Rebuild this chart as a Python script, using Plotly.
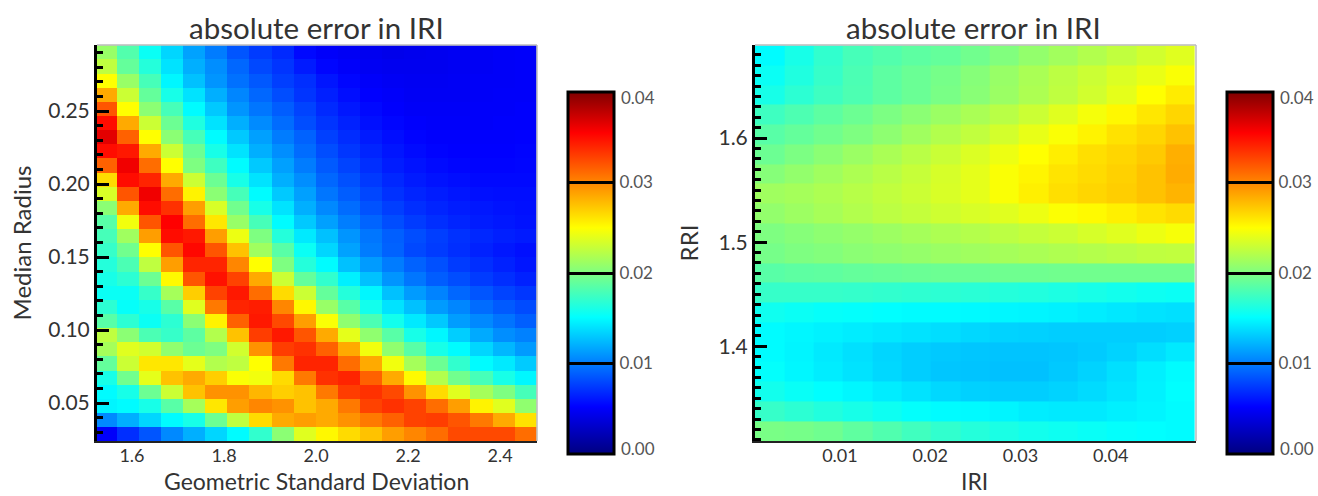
import plotly.graph_objects as go

TITLE = "absolute error in IRI"
LEFT_XLABEL = "Geometric Standard Deviation"
RIGHT_XLABEL = "IRI"

# Left panel
gsd_values = [1.543, 1.591, 1.639, 1.687, 1.735, 1.783, 1.831, 1.879, 1.927, 1.975,
              2.023, 2.071, 2.119, 2.167, 2.215, 2.263, 2.311, 2.359, 2.407, 2.455]
radius_values_top_down = [0.2902, 0.2805, 0.2708, 0.2611, 0.2515, 0.2418, 0.2321, 0.2224, 0.2128, 0.2031,
                          0.1934, 0.1837, 0.1740, 0.1644, 0.1547, 0.1450, 0.1353, 0.1257, 0.1160, 0.1063,
                          0.0966, 0.0869, 0.0772, 0.0676, 0.0579, 0.0482, 0.0385, 0.0288]
error_left_top_down = [
 [.0210,.0183,.0155,.0135,.0115,.0100,.0085,.0075,.0068,.0055,.0050,.0048,.0046,.0044,.0045,.0046,.0047,.0048,.0049,.0050],
 [.0225,.0190,.0165,.0140,.0120,.0107,.0092,.0080,.0072,.0062,.0054,.0050,.0047,.0046,.0046,.0046,.0047,.0048,.0049,.0050],
 [.0250,.0210,.0178,.0148,.0127,.0110,.0096,.0086,.0076,.0070,.0060,.0054,.0050,.0048,.0047,.0047,.0048,.0049,.0049,.0050],
 [.0285,.0230,.0190,.0160,.0140,.0120,.0104,.0092,.0082,.0072,.0064,.0057,.0052,.0050,.0048,.0048,.0048,.0049,.0050,.0050],
 [.0320,.0250,.0205,.0178,.0150,.0130,.0110,.0098,.0088,.0078,.0068,.0061,.0055,.0051,.0049,.0049,.0049,.0050,.0050,.0051],
 [.0350,.0285,.0230,.0193,.0163,.0140,.0120,.0106,.0094,.0082,.0072,.0065,.0058,.0054,.0051,.0050,.0050,.0050,.0051,.0051],
 [.0365,.0315,.0250,.0205,.0178,.0150,.0130,.0114,.0100,.0090,.0077,.0069,.0062,.0057,.0053,.0051,.0051,.0051,.0051,.0052],
 [.0350,.0345,.0285,.0230,.0193,.0160,.0140,.0120,.0107,.0094,.0082,.0073,.0066,.0060,.0056,.0053,.0052,.0052,.0052,.0053],
 [.0315,.0360,.0310,.0250,.0200,.0175,.0150,.0130,.0114,.0100,.0087,.0078,.0070,.0063,.0059,.0056,.0054,.0053,.0053,.0054],
 [.0265,.0350,.0340,.0285,.0230,.0193,.0160,.0140,.0120,.0107,.0092,.0083,.0074,.0067,.0062,.0059,.0057,.0055,.0055,.0055],
 [.0235,.0320,.0360,.0310,.0255,.0205,.0178,.0150,.0130,.0114,.0098,.0088,.0079,.0071,.0066,.0063,.0060,.0058,.0057,.0057],
 [.0205,.0285,.0350,.0335,.0290,.0235,.0195,.0160,.0140,.0120,.0105,.0094,.0084,.0076,.0070,.0066,.0063,.0061,.0059,.0058],
 [.0185,.0245,.0320,.0355,.0310,.0260,.0210,.0178,.0150,.0130,.0114,.0101,.0091,.0082,.0075,.0070,.0066,.0063,.0061,.0059],
 [.0178,.0213,.0290,.0350,.0345,.0290,.0243,.0200,.0165,.0143,.0127,.0110,.0098,.0089,.0082,.0076,.0071,.0067,.0064,.0062],
 [.0172,.0195,.0250,.0320,.0352,.0320,.0275,.0213,.0185,.0155,.0135,.0115,.0100,.0090,.0080,.0075,.0070,.0065,.0061,.0058],
 [.0165,.0180,.0225,.0290,.0340,.0340,.0300,.0250,.0200,.0165,.0150,.0127,.0112,.0100,.0090,.0083,.0075,.0070,.0065,.0060],
 [.0160,.0168,.0193,.0252,.0320,.0348,.0328,.0285,.0230,.0190,.0170,.0145,.0127,.0110,.0098,.0088,.0082,.0075,.0070,.0065],
 [.0155,.0155,.0172,.0215,.0270,.0328,.0345,.0310,.0265,.0230,.0190,.0165,.0148,.0127,.0112,.0103,.0092,.0085,.0078,.0073],
 [.0168,.0153,.0160,.0185,.0238,.0305,.0340,.0343,.0300,.0253,.0210,.0185,.0158,.0140,.0127,.0112,.0104,.0094,.0087,.0081],
 [.0185,.0168,.0155,.0168,.0205,.0255,.0315,.0345,.0325,.0290,.0248,.0207,.0180,.0158,.0143,.0130,.0113,.0105,.0097,.0089],
 [.0225,.0205,.0180,.0172,.0187,.0220,.0275,.0330,.0345,.0320,.0285,.0240,.0207,.0185,.0160,.0148,.0132,.0118,.0107,.0102],
 [.0215,.0238,.0232,.0207,.0193,.0200,.0232,.0295,.0330,.0335,.0315,.0285,.0245,.0207,.0185,.0160,.0150,.0135,.0123,.0112],
 [.0190,.0230,.0260,.0260,.0240,.0220,.0225,.0250,.0305,.0340,.0340,.0310,.0285,.0245,.0215,.0193,.0170,.0150,.0143,.0131],
 [.0160,.0195,.0240,.0275,.0285,.0270,.0248,.0245,.0265,.0305,.0335,.0340,.0315,.0285,.0252,.0220,.0195,.0178,.0160,.0148],
 [.0150,.0160,.0193,.0230,.0275,.0295,.0295,.0280,.0270,.0275,.0305,.0330,.0335,.0325,.0295,.0265,.0238,.0215,.0200,.0178],
 [.0147,.0150,.0160,.0185,.0215,.0260,.0290,.0300,.0295,.0275,.0285,.0305,.0328,.0335,.0328,.0310,.0290,.0255,.0238,.0207],
 [.0105,.0120,.0135,.0150,.0160,.0193,.0225,.0265,.0285,.0290,.0285,.0295,.0305,.0315,.0328,.0330,.0320,.0305,.0285,.0262],
 [.0050,.0070,.0085,.0105,.0120,.0135,.0150,.0170,.0205,.0238,.0253,.0265,.0275,.0290,.0300,.0310,.0325,.0325,.0325,.0310],
]

# Right panel
iri_values = [0.0022, 0.0055, 0.0087, 0.0120, 0.0152, 0.0185, 0.0217, 0.0250,
              0.0282, 0.0315, 0.0347, 0.0380, 0.0412, 0.0445, 0.0477]
rri_values_top_down = [1.6795, 1.6605, 1.6415, 1.6225, 1.6035, 1.5845, 1.5655, 1.5465, 1.5275, 1.5085,
                       1.4895, 1.4705, 1.4515, 1.4325, 1.4135, 1.3945, 1.3755, 1.3565, 1.3375, 1.3185]
error_right_top_down = [
 [.0150,.0160,.0170,.0178,.0183,.0187,.0190,.0195,.0201,.0208,.0214,.0220,.0226,.0232,.0238],
 [.0155,.0163,.0172,.0180,.0187,.0192,.0197,.0203,.0210,.0217,.0224,.0230,.0236,.0242,.0248],
 [.0160,.0168,.0175,.0181,.0187,.0192,.0198,.0204,.0211,.0218,.0225,.0232,.0240,.0250,.0258],
 [.0175,.0181,.0187,.0193,.0199,.0205,.0211,.0217,.0223,.0230,.0238,.0246,.0253,.0260,.0267],
 [.0185,.0190,.0195,.0200,.0206,.0213,.0220,.0226,.0233,.0241,.0248,.0255,.0262,.0267,.0275],
 [.0193,.0199,.0205,.0211,.0217,.0223,.0229,.0236,.0243,.0250,.0257,.0263,.0267,.0272,.0283],
 [.0203,.0208,.0213,.0218,.0223,.0228,.0234,.0240,.0248,.0254,.0261,.0265,.0269,.0275,.0284],
 [.0213,.0215,.0218,.0222,.0226,.0230,.0235,.0240,.0248,.0256,.0263,.0267,.0270,.0275,.0281],
 [.0208,.0212,.0216,.0220,.0224,.0227,.0231,.0235,.0238,.0243,.0249,.0252,.0256,.0261,.0265],
 [.0200,.0203,.0206,.0209,.0212,.0215,.0218,.0221,.0224,.0227,.0230,.0234,.0238,.0243,.0247],
 [.0197,.0200,.0202,.0205,.0207,.0209,.0211,.0213,.0215,.0217,.0219,.0221,.0223,.0225,.0226],
 [.0185,.0187,.0188,.0190,.0191,.0192,.0193,.0193,.0194,.0194,.0195,.0195,.0195,.0195,.0195],
 [.0172,.0172,.0172,.0171,.0170,.0169,.0168,.0167,.0165,.0164,.0162,.0160,.0158,.0156,.0155],
 [.0157,.0155,.0153,.0152,.0151,.0150,.0150,.0149,.0148,.0147,.0146,.0144,.0142,.0140,.0139],
 [.0150,.0148,.0146,.0144,.0142,.0140,.0138,.0136,.0134,.0133,.0132,.0132,.0132,.0132,.0133],
 [.0150,.0147,.0143,.0139,.0135,.0132,.0130,.0129,.0128,.0128,.0129,.0131,.0134,.0138,.0143],
 [.0152,.0148,.0144,.0140,.0136,.0132,.0129,.0128,.0127,.0127,.0130,.0134,.0139,.0145,.0150],
 [.0158,.0154,.0151,.0148,.0144,.0140,.0136,.0133,.0132,.0132,.0134,.0137,.0141,.0146,.0151],
 [.0172,.0168,.0164,.0160,.0156,.0152,.0150,.0149,.0147,.0144,.0143,.0143,.0145,.0147,.0150],
 [.0198,.0197,.0194,.0188,.0182,.0176,.0170,.0165,.0161,.0158,.0156,.0154,.0152,.0151,.0150],
]

colorbar_ticks = [0.01, 0.02, 0.03]
colorbar_labels = ["0.01", "0.02", "0.03"]
colorbar_end_values = [0.00, 0.04]

jet = [[0.0, "rgb(0,0,128)"], [0.13, "rgb(0,0,255)"], [0.3775, "rgb(0,255,255)"],
       [0.625, "rgb(255,255,0)"], [0.8875, "rgb(255,0,0)"], [1.0, "rgb(128,0,0)"]]

W, H = 1318, 496
FONT = "Lato, 'Open Sans', sans-serif"
TEXT = "#333333"
CB_TEXT = "#555555"


def px_x(p):
    return p / W


def px_y(p):
    return 1 - p / H


def colorbar(left):
    return dict(
        x=px_x(left), xanchor="left", xpad=0,
        y=px_y(454), yanchor="bottom", ypad=0,
        lenmode="fraction", len=(454 - 92) / H,
        thicknessmode="pixels", thickness=46,
        outlinecolor="black", outlinewidth=3,
        tickmode="array", tickvals=colorbar_ticks, ticktext=colorbar_labels,
        ticks="inside", ticklen=46, tickwidth=2.5, tickcolor="black",
        tickfont=dict(family=FONT, size=17, color=CB_TEXT),
    )


fig = go.Figure()
fig.add_trace(go.Heatmap(
    x=gsd_values, y=radius_values_top_down[::-1], z=error_left_top_down[::-1],
    zmin=0, zmax=0.04, colorscale=jet, xaxis="x", yaxis="y",
    colorbar=colorbar(568),
))
fig.add_trace(go.Heatmap(
    x=iri_values, y=rri_values_top_down[::-1], z=error_right_top_down[::-1],
    zmin=0, zmax=0.04, colorscale=jet, xaxis="x2", yaxis="y2",
    colorbar=colorbar(1227),
))


def xaxis(domain, rng, dtick, tick0, fmt, anchor):
    return dict(
        domain=[px_x(domain[0]), px_x(domain[1])], range=rng, anchor=anchor,
        tick0=tick0, dtick=dtick, tickformat=fmt, ticks="", showgrid=False, zeroline=False,
        showline=True, linecolor="#222222", linewidth=2, ticklabelstandoff=-3,
        tickfont=dict(family=FONT, size=18, color=TEXT),
    )


def yaxis(rng, dtick, tick0, minor, fmt, title, standoff, anchor):
    return dict(
        domain=[px_y(441), px_y(45)], range=rng, anchor=anchor,
        tick0=tick0, dtick=dtick, tickformat=fmt,
        ticks="inside", ticklen=12, tickwidth=2.5, tickcolor="black",
        minor=dict(dtick=minor, ticks="inside", ticklen=6, tickwidth=2.5, tickcolor="black", showgrid=False),
        showgrid=False, zeroline=False, showline=True, linecolor="black", linewidth=3,
        tickfont=dict(family=FONT, size=21, color=TEXT),
        title=dict(text=title, font=dict(family=FONT, size=24, color=TEXT), standoff=standoff),
    )


shapes = []
for xr, yr in (("x", "y"), ("x2", "y2")):
    for x0, y0, x1, y1 in ((0, 1, 1, 1), (1, 0, 1, 1)):
        shapes.append(dict(type="line", xref=f"{xr} domain", yref=f"{yr} domain",
                           x0=x0, y0=y0, x1=x1, y1=y1,
                           line=dict(color="#bbbbbb", width=1.5)))

annotations = []
for center in (316, 974):
    annotations.append(dict(text=TITLE, xref="paper", yref="paper", x=px_x(center), y=px_y(27),
                            xanchor="center", yanchor="middle", showarrow=False,
                            font=dict(family=FONT, size=29.5, color=TEXT)))
for label, center in ((LEFT_XLABEL, 316), (RIGHT_XLABEL, 975)):
    annotations.append(dict(text=label, xref="paper", yref="paper", x=px_x(center), y=px_y(481),
                            xanchor="center", yanchor="middle", showarrow=False,
                            font=dict(family=FONT, size=23, color=TEXT)))
for left in (620, 1279):
    for value, py in zip(colorbar_end_values, (448, 97)):
        annotations.append(dict(text=f"{value:.2f}", xref="paper", yref="paper",
                                x=px_x(left), y=px_y(py), xanchor="left", yanchor="middle",
                                showarrow=False, xshift=-1,
                                font=dict(family=FONT, size=17, color=CB_TEXT)))

fig.update_layout(
    width=W, height=H, margin=dict(l=0, r=0, t=0, b=0, autoexpand=False),
    paper_bgcolor="white", plot_bgcolor="white",
    xaxis=xaxis((97, 537), [1.524, 2.48], 0.2, 1.6, ".1f", "y"),
    yaxis=yaxis([0.024, 0.2952], 0.05, 0.05, 0.01, ".2f", "Median Radius", 10, "x"),
    xaxis2=xaxis((755, 1196), [0.00059, 0.04945], 0.01, 0.01, ".2f", "y2"),
    yaxis2=yaxis([1.309, 1.6894], 0.1, 1.4, 0.01, ".1f", "RRI", 14, "x2"),
    shapes=shapes, annotations=annotations,
)

fig.write_html("out.html", config={"displayModeBar": False},
               post_script="document.body.style.margin='0';")
